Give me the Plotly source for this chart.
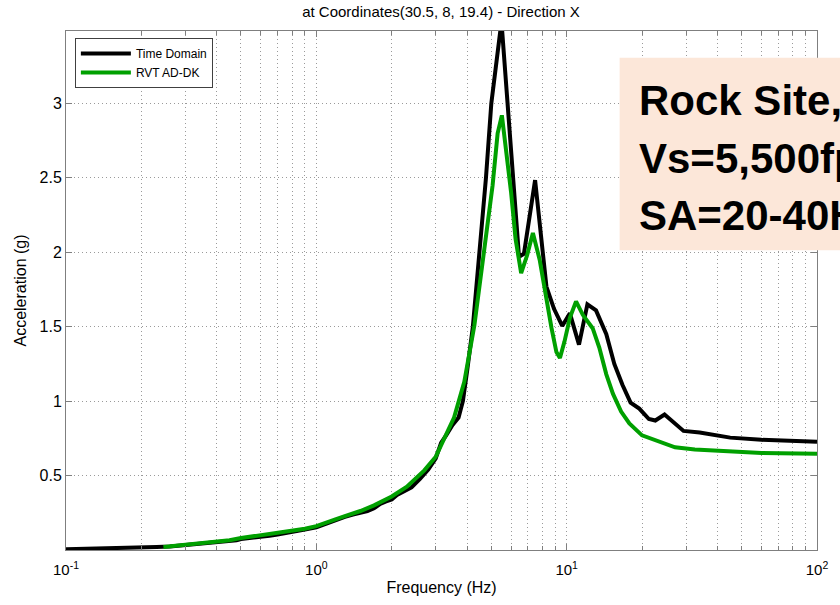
import plotly.graph_objects as go

# Response spectra at Coordinates(30.5, 8, 19.4), direction X
freq_td = [0.10, 0.13, 0.16, 0.20, 0.23, 0.26, 0.30, 0.35, 0.40, 0.45, 0.48, 0.50,
           0.55, 0.60, 0.65, 0.70, 0.75, 0.80, 0.85, 0.90, 1.00, 1.10, 1.20, 1.30,
           1.40, 1.50, 1.60, 1.70, 1.80, 1.90, 2.00, 2.10, 2.20, 2.40, 2.60, 2.80,
           3.00, 3.15, 3.30, 3.50, 3.70, 3.85, 4.00, 4.22, 4.76, 5.00, 5.49, 6.00,
           6.45, 6.75, 7.48, 8.30, 8.90, 9.60, 10.3, 11.2, 12.1, 13.1, 14.4, 15.5,
           16.7, 18.0, 19.5, 21.3, 22.6, 24.6, 27.1, 29.3, 34.0, 45.0, 60.0, 80.0,
           100.0]
acc_td = [0.005, 0.008, 0.012, 0.015, 0.020, 0.024, 0.034, 0.042, 0.050, 0.060, 0.066, 0.074,
          0.080, 0.090, 0.096, 0.104, 0.112, 0.118, 0.128, 0.138, 0.152, 0.180, 0.200, 0.222,
          0.238, 0.250, 0.262, 0.280, 0.310, 0.326, 0.340, 0.370, 0.385, 0.420, 0.480, 0.540,
          0.615, 0.720, 0.770, 0.840, 0.890, 1.000, 1.200, 1.500, 2.500, 3.000, 3.550, 2.660,
          1.970, 1.990, 2.485, 1.770, 1.620, 1.505, 1.590, 1.380, 1.650, 1.610, 1.450, 1.250,
          1.110, 0.990, 0.950, 0.880, 0.870, 0.910, 0.850, 0.800, 0.790, 0.755, 0.740, 0.732,
          0.727]

freq_rvt = [0.245, 0.30, 0.35, 0.40, 0.45, 0.50, 0.60, 0.70, 0.80, 0.90, 1.00, 1.10,
            1.20, 1.30, 1.50, 1.70, 2.00, 2.30, 2.70, 3.00, 3.25, 3.55, 3.90, 4.28,
            5.06, 5.30, 5.51, 6.00, 6.25, 6.58, 6.95, 7.33, 7.80, 8.20, 8.70, 9.10,
            9.40, 9.80, 10.3, 10.9, 11.6, 12.7, 13.5, 14.4, 15.3, 16.5, 17.8, 20.0,
            23.3, 27.1, 32.5, 45.0, 60.0, 100.0]
acc_rvt = [0.020, 0.036, 0.046, 0.055, 0.066, 0.080, 0.098, 0.112, 0.128, 0.143, 0.160, 0.188,
           0.208, 0.228, 0.262, 0.300, 0.360, 0.425, 0.535, 0.627, 0.755, 0.890, 1.130, 1.510,
           2.450, 2.800, 2.920, 2.400, 2.090, 1.860, 1.980, 2.130, 1.950, 1.720, 1.490, 1.330,
           1.290, 1.400, 1.560, 1.670, 1.580, 1.490, 1.360, 1.180, 1.050, 0.930, 0.850, 0.770,
           0.730, 0.690, 0.675, 0.660, 0.652, 0.647]

x_tickvals = [0.1, 1, 10, 100]
x_ticktext = ["10<sup>-1</sup>", "10<sup>0</sup>", "10<sup>1</sup>", "10<sup>2</sup>"]
x_minor = [m * 10.0 ** e for e in (-1, 0, 1) for m in range(2, 10)]
y_tickvals = [0.5, 1, 1.5, 2, 2.5, 3]
y_ticktext = ["0.5", "1", "1.5", "2", "2.5", "3"]

note_lines = ["Rock Site,", "Vs=5,500fps", "SA=20-40Hz"]

FONT = "Liberation Sans, Arial, sans-serif"
GRID = "#9a9a9a"
AXIS = "#7f7f7f"

fig = go.Figure()
fig.add_trace(go.Scatter(x=freq_td, y=acc_td, mode="lines", name="Time Domain",
                         line=dict(color="#000000", width=4)))
fig.add_trace(go.Scatter(x=freq_rvt, y=acc_rvt, mode="lines", name="RVT AD-DK",
                         line=dict(color="#00a000", width=4)))

W, H = 840, 605
L, R, T, B = 66, 13, 31, 51
pw, ph = W - L - R, H - T - B


def px_x(px):
    return (px - L) / pw


def px_y(py):
    return (H - B - py) / ph


fig.update_layout(
    width=W, height=H,
    margin=dict(l=L, r=R, t=T, b=B, pad=0),
    paper_bgcolor="white", plot_bgcolor="white",
    font=dict(family=FONT, color="#000000", size=14),
    title=dict(text="at Coordinates(30.5, 8, 19.4) - Direction X",
               x=px_x(446), xanchor="center", xref="paper",
               y=1 - 12 / H, yanchor="middle", yref="container",
               font=dict(size=15, family=FONT)),
    showlegend=True,
    legend=dict(x=px_x(75), y=px_y(38), xanchor="left", yanchor="top",
                bgcolor="white", bordercolor="#404040", borderwidth=1,
                font=dict(size=12, family=FONT), tracegroupgap=0,
                itemwidth=50),
    xaxis=dict(type="log", range=[-1, 2],
               tickmode="array", tickvals=x_tickvals, ticktext=x_ticktext,
               ticks="inside", ticklen=6, tickcolor=AXIS, ticklabelstandoff=6,
               showline=True, linecolor=AXIS, linewidth=1, mirror="allticks",
               showgrid=True, gridcolor=GRID, griddash="1px,3px", gridwidth=1,
               minor=dict(tickmode="array", tickvals=x_minor, ticks="inside",
                          ticklen=4, tickcolor=AXIS, showgrid=True,
                          gridcolor=GRID, griddash="1px,3px", gridwidth=1),
               zeroline=False,
               tickfont=dict(size=15, family=FONT),
               title=dict(text="Frequency (Hz)", font=dict(size=16, family=FONT),
                          standoff=4)),
    yaxis=dict(range=[0, (H - B - T) / 150.0],
               tickmode="array", tickvals=y_tickvals, ticktext=y_ticktext,
               ticks="inside", ticklen=6, tickcolor=AXIS,
               showline=True, linecolor=AXIS, linewidth=1, mirror="allticks",
               showgrid=True, gridcolor=GRID, griddash="1px,3px", gridwidth=1,
               zeroline=False,
               tickfont=dict(size=16, family=FONT),
               title=dict(text="Acceleration (g)", font=dict(size=16, family=FONT),
                          standoff=8)),
)

# Site description panel
fig.add_shape(type="rect", xref="paper", yref="paper",
              x0=px_x(627), x1=px_x(860), y0=px_y(252), y1=px_y(58),
              fillcolor="#fce7d9", line=dict(width=0), layer="above")
for i, line in enumerate(note_lines):
    fig.add_annotation(text="<b>%s</b>" % line, xref="paper", yref="paper",
                       x=px_x(645), y=px_y(115 + 58 * i - 14), xanchor="left",
                       yanchor="middle", showarrow=False,
                       font=dict(size=42, family=FONT, color="#000000"))

fig.write_html("out.html")
